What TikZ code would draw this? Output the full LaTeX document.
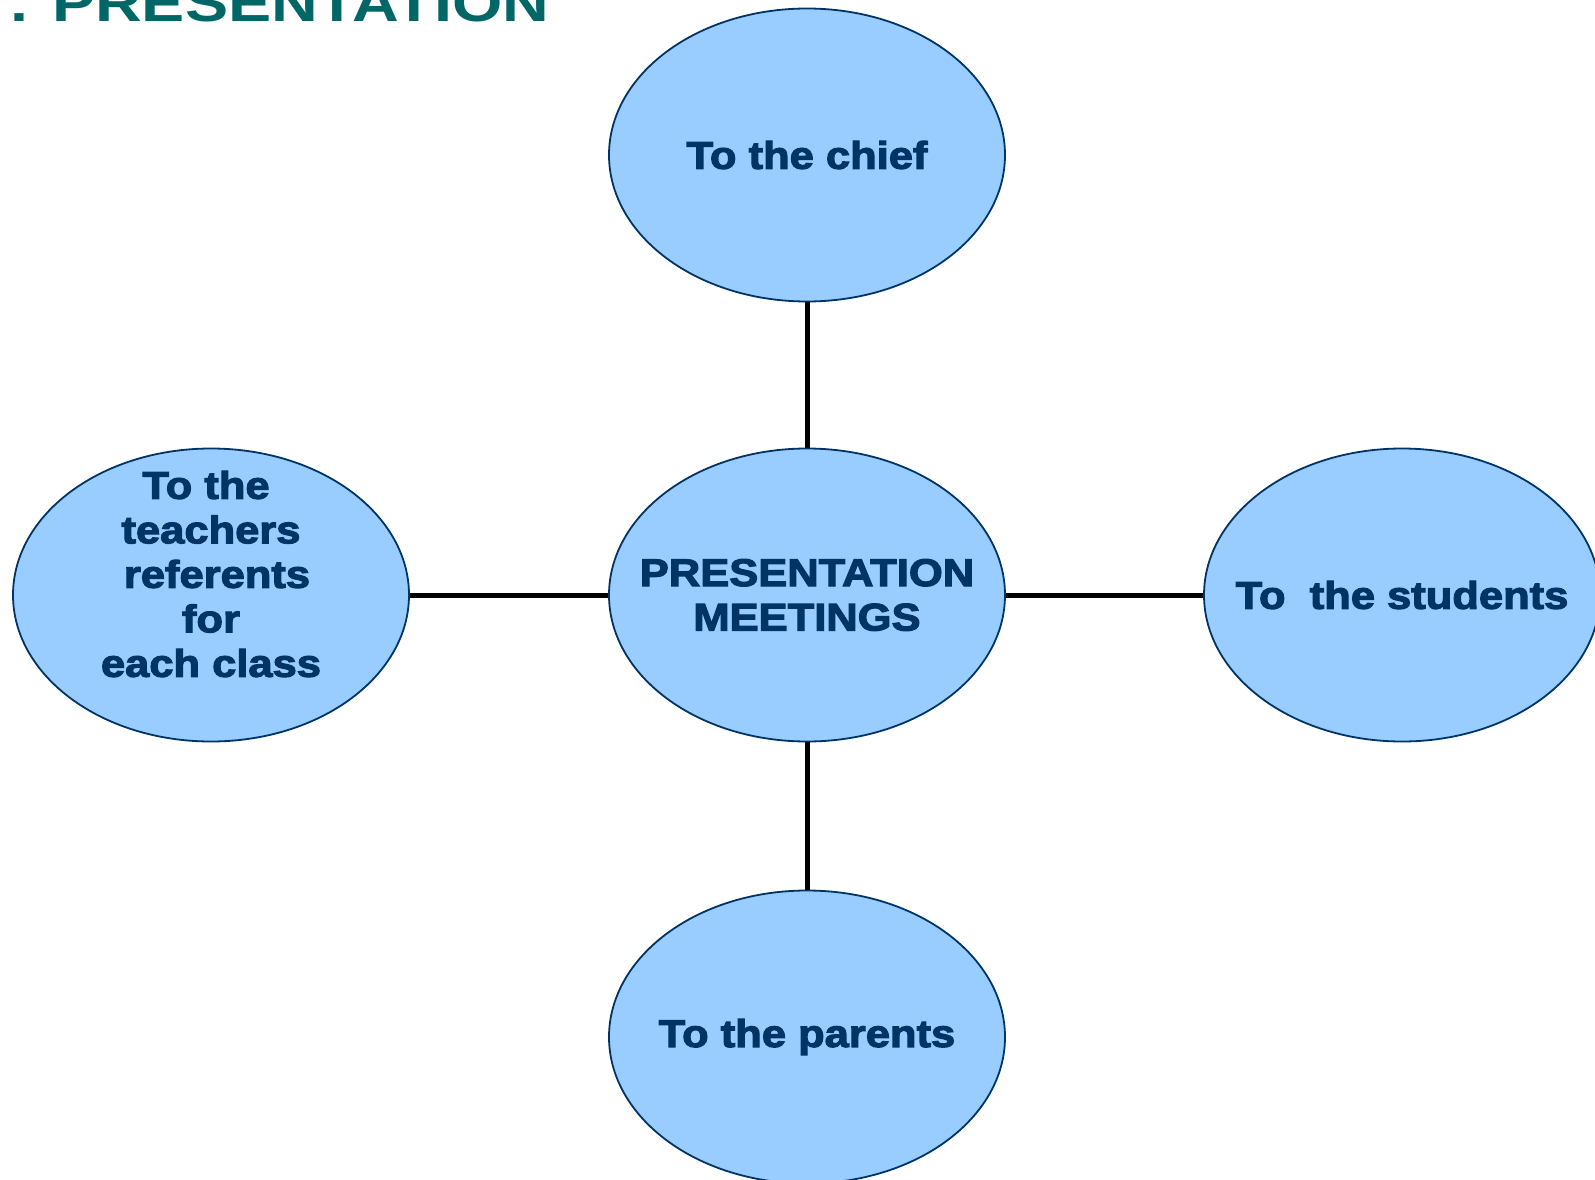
\documentclass[tikz,border=0pt]{standalone}
\usepackage{fontspec}
\setmainfont{Liberation Sans}
\newfontfamily\heavyfont[FakeBold=3,FakeStretch=1.13]{Liberation Sans Bold}
\newfontfamily\titlefont[FakeStretch=1.22]{Liberation Sans Bold}
\usetikzlibrary{shapes.geometric}
\definecolor{bubblefill}{HTML}{99CCFF}
\definecolor{bubbleline}{HTML}{003366}
\definecolor{titleteal}{HTML}{006666}

\begin{document}
\begin{tikzpicture}[x=1pt,y=-1pt,
  bubble/.style={ellipse,draw=bubbleline,line width=1.8pt,fill=bubblefill,
    minimum width=396pt,minimum height=293pt,inner sep=0pt},
  bubbletext/.style={text=bubbleline,align=center,inner sep=0pt,
    font=\heavyfont\fontsize{38.5}{44.5}\selectfont},
  link/.style={line width=5pt}]

\useasboundingbox (0,0) rectangle (1595,1180);
\clip (0,0) rectangle (1595,1180);

\coordinate (o) at (807,595);
\coordinate (n) at (807,155);
\coordinate (s) at (807,1037);
\coordinate (w) at (211,595);
\coordinate (e) at (1402,595);

% title, cut by the top edge
\node[anchor=base west,inner sep=0pt,text=titleteal,
  font=\titlefont\fontsize{53}{60}\selectfont] (title) at (10,22) {. PRESENTATION};

\node[bubble] (meet) at (o) {};
\node[bubble] (chief) at (n) {};
\node[bubble] (parents) at (s) {};
\node[bubble] (teachers) at (w) {};
\node[bubble] (students) at (e) {};

\draw[link] (chief) -- (meet);
\draw[link] (meet) -- (parents);
\draw[link] (teachers) -- (meet);
\draw[link] (meet) -- (students);

\node[bubbletext] (meettxt) at (o) {PRESENTATION\\MEETINGS};
\node[bubbletext] (chieftxt) at (n) {To the chief};
\node[bubbletext] (parentstxt) at (s) {To the parents};
\node[bubbletext] (teacherstxt) at (211,574) {To the\hspace*{10pt}\\teachers\\\hspace*{12pt}referents\\for\\each class};
\node[bubbletext] (studentstxt) at (e) {To\ \ the students};

\end{tikzpicture}
\end{document}
